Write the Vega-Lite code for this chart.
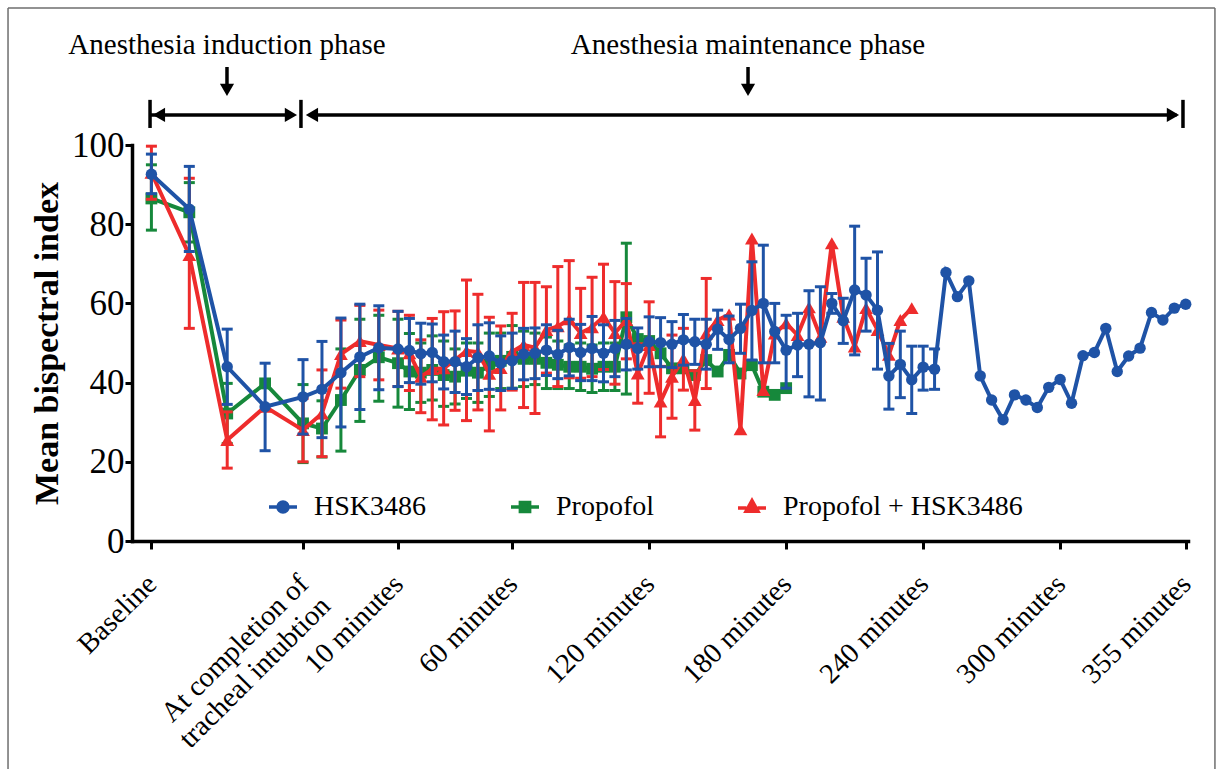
{
  "$schema": "https://vega.github.io/schema/vega-lite/v6.json",
  "width": 1056,
  "height": 396,
  "autosize": {"type": "none"},
  "padding": {"left": 132, "top": 145, "right": 35, "bottom": 228},
  "background": "white",
  "config": {
    "font": "Liberation Serif",
    "view": {"stroke": null},
    "axis": {"domainColor": "black", "domainWidth": 3.5, "domainCap": "square", "tickColor": "black", "tickWidth": 3, "labelColor": "black", "titleColor": "black", "grid": false, "labelFont": "Liberation Serif", "titleFont": "Liberation Serif", "labelLimit": 0},
    "legend": {"labelFont": "Liberation Serif", "labelColor": "black", "labelLimit": 0}
  },
  "datasets": {
    "frame": [
      {"side": "left", "t": -160.8, "t2": -160.8, "v": 134.6, "v2": -60},
      {"side": "top", "t": -160.8, "t2": 367.8, "v": 134.6, "v2": 134.6},
      {"side": "right", "t": 367.8, "t2": 367.8, "v": 134.6, "v2": -60}
    ],
    "bis": [
      {"t": -98, "group": "HSK3486", "v": 92.6, "lo": 87.7, "hi": 97.7},
      {"t": -81.4, "group": "HSK3486", "v": 83.8, "lo": 73.1, "hi": 94.6},
      {"t": -64.8, "group": "HSK3486", "v": 44.0, "lo": 34.5, "hi": 53.5},
      {"t": -48.2, "group": "HSK3486", "v": 33.9, "lo": 22.8, "hi": 44.9},
      {"t": -31.6, "group": "HSK3486", "v": 36.4, "lo": 27.0, "hi": 45.8},
      {"t": -23.3, "group": "HSK3486", "v": 38.3, "lo": 26.1, "hi": 50.4},
      {"t": -15, "group": "HSK3486", "v": 42.5, "lo": 28.8, "hi": 56.3},
      {"t": -6.7, "group": "HSK3486", "v": 46.5, "lo": 33.2, "hi": 59.8},
      {"t": 1.6, "group": "HSK3486", "v": 48.8, "lo": 38.2, "hi": 59.4},
      {"t": 10, "group": "HSK3486", "v": 48.5, "lo": 39.0, "hi": 58.0},
      {"t": 15, "group": "HSK3486", "v": 48.1, "lo": 40.0, "hi": 56.2},
      {"t": 20, "group": "HSK3486", "v": 47.3, "lo": 39.6, "hi": 55.0},
      {"t": 25, "group": "HSK3486", "v": 47.6, "lo": 40.2, "hi": 54.8},
      {"t": 30, "group": "HSK3486", "v": 45.3, "lo": 38.4, "hi": 52.0},
      {"t": 35, "group": "HSK3486", "v": 45.3, "lo": 37.5, "hi": 53.0},
      {"t": 40, "group": "HSK3486", "v": 44.0, "lo": 37.0, "hi": 51.1},
      {"t": 45, "group": "HSK3486", "v": 46.3, "lo": 38.0, "hi": 54.6},
      {"t": 50, "group": "HSK3486", "v": 46.7, "lo": 38.3, "hi": 55.1},
      {"t": 55, "group": "HSK3486", "v": 44.9, "lo": 38.0, "hi": 51.8},
      {"t": 60, "group": "HSK3486", "v": 45.5, "lo": 38.5, "hi": 52.5},
      {"t": 65, "group": "HSK3486", "v": 47.2, "lo": 40.7, "hi": 53.7},
      {"t": 70, "group": "HSK3486", "v": 47.4, "lo": 41.0, "hi": 53.8},
      {"t": 75, "group": "HSK3486", "v": 48.2, "lo": 41.8, "hi": 54.6},
      {"t": 80, "group": "HSK3486", "v": 47.1, "lo": 41.0, "hi": 53.2},
      {"t": 85, "group": "HSK3486", "v": 48.9, "lo": 41.7, "hi": 56.0},
      {"t": 90, "group": "HSK3486", "v": 47.6, "lo": 40.5, "hi": 54.7},
      {"t": 95, "group": "HSK3486", "v": 48.6, "lo": 40.5, "hi": 56.7},
      {"t": 100, "group": "HSK3486", "v": 47.4, "lo": 40.2, "hi": 54.6},
      {"t": 105, "group": "HSK3486", "v": 48.6, "lo": 41.5, "hi": 55.7},
      {"t": 110, "group": "HSK3486", "v": 49.7, "lo": 43.2, "hi": 56.2},
      {"t": 115, "group": "HSK3486", "v": 48.6, "lo": 43.4, "hi": 53.8},
      {"t": 120, "group": "HSK3486", "v": 50.3, "lo": 44.0, "hi": 56.6},
      {"t": 125, "group": "HSK3486", "v": 50.1, "lo": 44.0, "hi": 56.4},
      {"t": 130, "group": "HSK3486", "v": 49.7, "lo": 43.8, "hi": 55.4},
      {"t": 135, "group": "HSK3486", "v": 50.8, "lo": 44.4, "hi": 57.2},
      {"t": 140, "group": "HSK3486", "v": 50.3, "lo": 44.6, "hi": 56.0},
      {"t": 145, "group": "HSK3486", "v": 49.7, "lo": 43.4, "hi": 56.0},
      {"t": 150, "group": "HSK3486", "v": 53.5, "lo": 48.4, "hi": 58.3},
      {"t": 155, "group": "HSK3486", "v": 50.9, "lo": 45.0, "hi": 56.8},
      {"t": 160, "group": "HSK3486", "v": 53.7, "lo": 47.4, "hi": 59.8},
      {"t": 165, "group": "HSK3486", "v": 58.2, "lo": 45.7, "hi": 70.5},
      {"t": 170, "group": "HSK3486", "v": 60.0, "lo": 45.0, "hi": 74.7},
      {"t": 175, "group": "HSK3486", "v": 52.9, "lo": 45.0, "hi": 60.0},
      {"t": 180, "group": "HSK3486", "v": 48.2, "lo": 38.6, "hi": 57.0},
      {"t": 185, "group": "HSK3486", "v": 49.5, "lo": 41.5, "hi": 57.5},
      {"t": 190, "group": "HSK3486", "v": 49.7, "lo": 36.4, "hi": 63.2},
      {"t": 195, "group": "HSK3486", "v": 50.1, "lo": 35.6, "hi": 64.2},
      {"t": 200, "group": "HSK3486", "v": 60.0, "lo": 57.5, "hi": 62.5},
      {"t": 205, "group": "HSK3486", "v": 55.6, "lo": 49.9, "hi": 61.3},
      {"t": 210, "group": "HSK3486", "v": 63.4, "lo": 47.0, "hi": 79.5},
      {"t": 215, "group": "HSK3486", "v": 62.1, "lo": 53.0, "hi": 71.4},
      {"t": 220, "group": "HSK3486", "v": 58.3, "lo": 43.4, "hi": 73.0},
      {"t": 225, "group": "HSK3486", "v": 41.7, "lo": 33.3, "hi": 49.9},
      {"t": 230, "group": "HSK3486", "v": 44.6, "lo": 36.2, "hi": 53.0},
      {"t": 235, "group": "HSK3486", "v": 40.7, "lo": 32.2, "hi": 49.2},
      {"t": 240, "group": "HSK3486", "v": 43.9, "lo": 38.1, "hi": 49.2},
      {"t": 245, "group": "HSK3486", "v": 43.4, "lo": 38.3, "hi": 48.5},
      {"t": 250, "group": "HSK3486", "v": 67.8},
      {"t": 255, "group": "HSK3486", "v": 61.7},
      {"t": 260, "group": "HSK3486", "v": 65.7},
      {"t": 265, "group": "HSK3486", "v": 41.7},
      {"t": 270, "group": "HSK3486", "v": 35.6},
      {"t": 275, "group": "HSK3486", "v": 30.6},
      {"t": 280, "group": "HSK3486", "v": 36.9},
      {"t": 285, "group": "HSK3486", "v": 35.6},
      {"t": 290, "group": "HSK3486", "v": 33.7},
      {"t": 295, "group": "HSK3486", "v": 38.8},
      {"t": 300, "group": "HSK3486", "v": 40.8},
      {"t": 305, "group": "HSK3486", "v": 34.8},
      {"t": 310, "group": "HSK3486", "v": 46.8},
      {"t": 315, "group": "HSK3486", "v": 47.6},
      {"t": 320, "group": "HSK3486", "v": 53.7},
      {"t": 325, "group": "HSK3486", "v": 42.8},
      {"t": 330, "group": "HSK3486", "v": 46.7},
      {"t": 335, "group": "HSK3486", "v": 48.7},
      {"t": 340, "group": "HSK3486", "v": 57.7},
      {"t": 345, "group": "HSK3486", "v": 55.8},
      {"t": 350, "group": "HSK3486", "v": 58.8},
      {"t": 355, "group": "HSK3486", "v": 59.8},

      {"t": -98, "group": "Propofol", "v": 86.5, "lo": 78.5, "hi": 95.0},
      {"t": -81.4, "group": "Propofol", "v": 83.0, "lo": 75.5, "hi": 90.5},
      {"t": -64.8, "group": "Propofol", "v": 32.2, "lo": 24.6, "hi": 39.8},
      {"t": -48.2, "group": "Propofol", "v": 39.8},
      {"t": -31.6, "group": "Propofol", "v": 29.7, "lo": 19.8, "hi": 39.5},
      {"t": -23.3, "group": "Propofol", "v": 28.4, "lo": 21.2, "hi": 35.4},
      {"t": -15, "group": "Propofol", "v": 35.6, "lo": 22.7, "hi": 48.5},
      {"t": -6.7, "group": "Propofol", "v": 43.2, "lo": 30.2, "hi": 56.0},
      {"t": 1.6, "group": "Propofol", "v": 46.4, "lo": 35.3, "hi": 57.0},
      {"t": 10, "group": "Propofol", "v": 44.9, "lo": 33.8, "hi": 56.0},
      {"t": 15, "group": "Propofol", "v": 42.8, "lo": 33.2, "hi": 52.4},
      {"t": 20, "group": "Propofol", "v": 42.5, "lo": 35.0, "hi": 50.0},
      {"t": 25, "group": "Propofol", "v": 43.2, "lo": 35.6, "hi": 51.8},
      {"t": 30, "group": "Propofol", "v": 41.9, "lo": 34.0, "hi": 50.5},
      {"t": 35, "group": "Propofol", "v": 41.5, "lo": 34.6, "hi": 48.5},
      {"t": 40, "group": "Propofol", "v": 43.0, "lo": 36.0, "hi": 50.0},
      {"t": 45, "group": "Propofol", "v": 42.5, "lo": 35.0, "hi": 50.0},
      {"t": 50, "group": "Propofol", "v": 44.5, "lo": 36.5, "hi": 52.5},
      {"t": 55, "group": "Propofol", "v": 45.5, "lo": 38.5, "hi": 52.5},
      {"t": 60, "group": "Propofol", "v": 46.5, "lo": 38.6, "hi": 54.4},
      {"t": 65, "group": "Propofol", "v": 46.0, "lo": 39.0, "hi": 53.0},
      {"t": 70, "group": "Propofol", "v": 46.0, "lo": 39.5, "hi": 52.5},
      {"t": 75, "group": "Propofol", "v": 45.0, "lo": 38.5, "hi": 51.5},
      {"t": 80, "group": "Propofol", "v": 44.5, "lo": 38.5, "hi": 50.5},
      {"t": 85, "group": "Propofol", "v": 44.0, "lo": 38.5, "hi": 49.5},
      {"t": 90, "group": "Propofol", "v": 44.0, "lo": 38.0, "hi": 50.0},
      {"t": 95, "group": "Propofol", "v": 43.5, "lo": 37.5, "hi": 49.5},
      {"t": 100, "group": "Propofol", "v": 44.0, "lo": 38.0, "hi": 50.0},
      {"t": 105, "group": "Propofol", "v": 44.0, "lo": 38.0, "hi": 50.0},
      {"t": 110, "group": "Propofol", "v": 56.5, "lo": 37.1, "hi": 75.2},
      {"t": 115, "group": "Propofol", "v": 51.0},
      {"t": 120, "group": "Propofol", "v": 50.5},
      {"t": 125, "group": "Propofol", "v": 47.4},
      {"t": 130, "group": "Propofol", "v": 43.6},
      {"t": 135, "group": "Propofol", "v": 43.6},
      {"t": 140, "group": "Propofol", "v": 41.9},
      {"t": 145, "group": "Propofol", "v": 45.7},
      {"t": 150, "group": "Propofol", "v": 42.8},
      {"t": 155, "group": "Propofol", "v": 47.0},
      {"t": 160, "group": "Propofol", "v": 42.3},
      {"t": 165, "group": "Propofol", "v": 44.4},
      {"t": 170, "group": "Propofol", "v": 37.7},
      {"t": 175, "group": "Propofol", "v": 36.9},
      {"t": 180, "group": "Propofol", "v": 38.6},

      {"t": -98, "group": "Propofol + HSK3486", "v": 93.0, "lo": 86.3, "hi": 99.7},
      {"t": -81.4, "group": "Propofol + HSK3486", "v": 72.2, "lo": 53.7, "hi": 91.6},
      {"t": -64.8, "group": "Propofol + HSK3486", "v": 25.5, "lo": 18.4, "hi": 32.6},
      {"t": -48.2, "group": "Propofol + HSK3486", "v": 33.9},
      {"t": -31.6, "group": "Propofol + HSK3486", "v": 28.0, "lo": 20.0, "hi": 36.0},
      {"t": -23.3, "group": "Propofol + HSK3486", "v": 32.2, "lo": 21.3, "hi": 43.2},
      {"t": -15, "group": "Propofol + HSK3486", "v": 47.2, "lo": 38.6, "hi": 55.8},
      {"t": -6.7, "group": "Propofol + HSK3486", "v": 50.5, "lo": 41.5, "hi": 59.5},
      {"t": 1.6, "group": "Propofol + HSK3486", "v": 49.5, "lo": 40.7, "hi": 58.3},
      {"t": 10, "group": "Propofol + HSK3486", "v": 48.6, "lo": 39.0, "hi": 58.0},
      {"t": 15, "group": "Propofol + HSK3486", "v": 47.4, "lo": 38.0, "hi": 57.0},
      {"t": 20, "group": "Propofol + HSK3486", "v": 41.5, "lo": 32.4, "hi": 50.8},
      {"t": 25, "group": "Propofol + HSK3486", "v": 43.4, "lo": 30.6, "hi": 56.2},
      {"t": 30, "group": "Propofol + HSK3486", "v": 43.6, "lo": 29.3, "hi": 57.9},
      {"t": 35, "group": "Propofol + HSK3486", "v": 45.7, "lo": 33.0, "hi": 58.1},
      {"t": 40, "group": "Propofol + HSK3486", "v": 48.0, "lo": 30.4, "hi": 65.9},
      {"t": 45, "group": "Propofol + HSK3486", "v": 47.7, "lo": 33.1, "hi": 62.3},
      {"t": 50, "group": "Propofol + HSK3486", "v": 42.2, "lo": 27.8, "hi": 56.5},
      {"t": 55, "group": "Propofol + HSK3486", "v": 43.7, "lo": 33.1, "hi": 54.3},
      {"t": 60, "group": "Propofol + HSK3486", "v": 47.8, "lo": 38.1, "hi": 57.5},
      {"t": 65, "group": "Propofol + HSK3486", "v": 49.5, "lo": 33.7, "hi": 65.3},
      {"t": 70, "group": "Propofol + HSK3486", "v": 48.8, "lo": 32.2, "hi": 65.3},
      {"t": 75, "group": "Propofol + HSK3486", "v": 53.3, "lo": 42.4, "hi": 64.2},
      {"t": 80, "group": "Propofol + HSK3486", "v": 54.2, "lo": 39.0, "hi": 69.3},
      {"t": 85, "group": "Propofol + HSK3486", "v": 56.0, "lo": 41.2, "hi": 70.8},
      {"t": 90, "group": "Propofol + HSK3486", "v": 52.5, "lo": 41.1, "hi": 63.8},
      {"t": 95, "group": "Propofol + HSK3486", "v": 54.0, "lo": 41.5, "hi": 66.6},
      {"t": 100, "group": "Propofol + HSK3486", "v": 56.6, "lo": 43.3, "hi": 69.9},
      {"t": 105, "group": "Propofol + HSK3486", "v": 52.5, "lo": 39.6, "hi": 65.5},
      {"t": 110, "group": "Propofol + HSK3486", "v": 55.8, "lo": 46.0, "hi": 65.0},
      {"t": 115, "group": "Propofol + HSK3486", "v": 42.3, "lo": 34.8, "hi": 49.8},
      {"t": 120, "group": "Propofol + HSK3486", "v": 49.5, "lo": 37.3, "hi": 60.4},
      {"t": 125, "group": "Propofol + HSK3486", "v": 35.2, "lo": 26.3, "hi": 44.1},
      {"t": 130, "group": "Propofol + HSK3486", "v": 41.5, "lo": 31.0, "hi": 52.0},
      {"t": 135, "group": "Propofol + HSK3486", "v": 46.0, "lo": 38.1, "hi": 53.7},
      {"t": 140, "group": "Propofol + HSK3486", "v": 35.6, "lo": 28.0, "hi": 43.0},
      {"t": 145, "group": "Propofol + HSK3486", "v": 52.4, "lo": 38.5, "hi": 66.3},
      {"t": 150, "group": "Propofol + HSK3486", "v": 55.8},
      {"t": 155, "group": "Propofol + HSK3486", "v": 57.2},
      {"t": 160, "group": "Propofol + HSK3486", "v": 28.2},
      {"t": 165, "group": "Propofol + HSK3486", "v": 76.4},
      {"t": 170, "group": "Propofol + HSK3486", "v": 38.1},
      {"t": 175, "group": "Propofol + HSK3486", "v": 52.4},
      {"t": 180, "group": "Propofol + HSK3486", "v": 55.0},
      {"t": 185, "group": "Propofol + HSK3486", "v": 52.0},
      {"t": 190, "group": "Propofol + HSK3486", "v": 59.0},
      {"t": 195, "group": "Propofol + HSK3486", "v": 51.6},
      {"t": 200, "group": "Propofol + HSK3486", "v": 75.2},
      {"t": 205, "group": "Propofol + HSK3486", "v": 56.6},
      {"t": 210, "group": "Propofol + HSK3486", "v": 49.1},
      {"t": 215, "group": "Propofol + HSK3486", "v": 58.8},
      {"t": 220, "group": "Propofol + HSK3486", "v": 53.3},
      {"t": 225, "group": "Propofol + HSK3486", "v": 47.0},
      {"t": 230, "group": "Propofol + HSK3486", "v": 55.8},
      {"t": 235, "group": "Propofol + HSK3486", "v": 58.8}
    ],
    "ann_text": [
      {"t": -64.9, "v": 125.3, "label": "Anesthesia induction phase"},
      {"t": 163.3, "v": 125.3, "label": "Anesthesia maintenance phase"}
    ],
    "ann_rules": [
      {"t": -98.6, "t2": -36.0, "v": 107.6, "v2": 107.6},
      {"t": -29.0, "t2": 351.0, "v": 107.6, "v2": 107.6},
      {"t": -98.6, "t2": -98.6, "v": 104.3, "v2": 111.4},
      {"t": -32.5, "t2": -32.5, "v": 104.3, "v2": 111.4},
      {"t": 353.8, "t2": 353.8, "v": 104.3, "v2": 111.4},
      {"t": -64.9, "t2": -64.9, "v": 119.7, "v2": 114.5},
      {"t": 163.3, "t2": 163.3, "v": 119.7, "v2": 114.5}
    ],
    "ann_heads": [
      {"t": -94.7, "v": 107.6, "dir": "left"},
      {"t": -36.9, "v": 107.6, "dir": "right"},
      {"t": -27.7, "v": 107.6, "dir": "left"},
      {"t": 349.4, "v": 107.6, "dir": "right"},
      {"t": -64.9, "v": 113.9, "dir": "down"},
      {"t": 163.3, "v": 113.9, "dir": "down"}
    ]
  },
  "encoding": {
    "x": {
      "field": "t", "type": "quantitative",
      "scale": {"domain": [-106.5, 356], "nice": false, "zero": false},
      "axis": {
        "values": [-98, -31.6, 10, 60, 120, 180, 240, 300, 355],
        "labelExpr": "datum.value == -98 ? 'Baseline' : datum.value == -31.6 ? ['At completion of', 'tracheal intubtion'] : datum.value + ' minutes'",
        "title": null, "labelAngle": -45, "labelAlign": "right", "labelBaseline": "middle",
        "labelFontSize": 28.5, "labelPadding": 30, "labelLineHeight": 31, "tickSize": 8,
        "labelOverlap": false, "labelFlush": false, "labelBound": false, "labelLimit": 0
      }
    },
    "y": {
      "field": "v", "type": "quantitative", "title": "Mean bispectral index",
      "scale": {"domain": [0, 100], "nice": false},
      "axis": {"values": [0, 20, 40, 60, 80, 100], "labelFontSize": 35, "labelPadding": 1, "tickSize": 7, "titleFontSize": 34, "titleFontWeight": "bold", "titlePadding": 7}
    }
  },
  "layer": [
    {
      "data": {"name": "frame"},
      "mark": {"type": "rule", "color": "#6e6e6e", "strokeWidth": 1.5, "clip": false},
      "encoding": {"x2": {"field": "t2"}, "y2": {"field": "v2"}}
    },
    {
      "data": {"name": "ann_text"},
      "mark": {"type": "text", "fontSize": 29, "font": "Liberation Serif", "color": "black", "baseline": "middle", "align": "center"},
      "encoding": {"text": {"field": "label"}}
    },
    {
      "data": {"name": "ann_rules"},
      "mark": {"type": "rule", "color": "black", "strokeWidth": 3.5},
      "encoding": {"x2": {"field": "t2"}, "y2": {"field": "v2"}}
    },
    {
      "data": {"name": "ann_heads"},
      "transform": [{"filter": "datum.dir == 'left'"}],
      "mark": {"type": "point", "shape": "triangle-left", "filled": true, "color": "black", "opacity": 1, "size": 200}
    },
    {
      "data": {"name": "ann_heads"},
      "transform": [{"filter": "datum.dir == 'right'"}],
      "mark": {"type": "point", "shape": "triangle-right", "filled": true, "color": "black", "opacity": 1, "size": 200}
    },
    {
      "data": {"name": "ann_heads"},
      "transform": [{"filter": "datum.dir == 'down'"}],
      "mark": {"type": "point", "shape": "triangle-down", "filled": true, "color": "black", "opacity": 1, "size": 200}
    },
    {
      "data": {"name": "bis"},
      "transform": [{"filter": "datum.group == 'Propofol'"}],
      "layer": [
        {"mark": {"type": "rule", "strokeWidth": 3, "color": "#16883B"}, "encoding": {"y": {"field": "lo", "type": "quantitative", "title": "Mean bispectral index"}, "y2": {"field": "hi"}}},
        {"mark": {"type": "tick", "orient": "horizontal", "size": 11, "thickness": 3, "color": "#16883B", "opacity": 1}, "encoding": {"y": {"field": "lo", "type": "quantitative", "title": "Mean bispectral index"}}},
        {"mark": {"type": "tick", "orient": "horizontal", "size": 11, "thickness": 3, "color": "#16883B", "opacity": 1}, "encoding": {"y": {"field": "hi", "type": "quantitative", "title": "Mean bispectral index"}}},
        {"mark": {"type": "line", "strokeWidth": 4, "color": "#16883B"}},
        {"mark": {"type": "point", "shape": "square", "filled": true, "opacity": 1, "size": 140, "color": "#16883B"}}
      ]
    },
    {
      "data": {"name": "bis"},
      "transform": [{"filter": "datum.group == 'Propofol + HSK3486'"}],
      "layer": [
        {"mark": {"type": "rule", "strokeWidth": 3, "color": "#EE2C2C"}, "encoding": {"y": {"field": "lo", "type": "quantitative", "title": "Mean bispectral index"}, "y2": {"field": "hi"}}},
        {"mark": {"type": "tick", "orient": "horizontal", "size": 11, "thickness": 3, "color": "#EE2C2C", "opacity": 1}, "encoding": {"y": {"field": "lo", "type": "quantitative", "title": "Mean bispectral index"}}},
        {"mark": {"type": "tick", "orient": "horizontal", "size": 11, "thickness": 3, "color": "#EE2C2C", "opacity": 1}, "encoding": {"y": {"field": "hi", "type": "quantitative", "title": "Mean bispectral index"}}},
        {"mark": {"type": "line", "strokeWidth": 4, "color": "#EE2C2C"}},
        {"mark": {"type": "point", "shape": "triangle-up", "filled": true, "opacity": 1, "size": 190, "color": "#EE2C2C"}}
      ]
    },
    {
      "data": {"name": "bis"},
      "transform": [{"filter": "datum.group == 'HSK3486'"}],
      "layer": [
        {"mark": {"type": "rule", "strokeWidth": 3, "color": "#1F53A6"}, "encoding": {"y": {"field": "lo", "type": "quantitative", "title": "Mean bispectral index"}, "y2": {"field": "hi"}}},
        {"mark": {"type": "tick", "orient": "horizontal", "size": 11, "thickness": 3, "color": "#1F53A6", "opacity": 1}, "encoding": {"y": {"field": "lo", "type": "quantitative", "title": "Mean bispectral index"}}},
        {"mark": {"type": "tick", "orient": "horizontal", "size": 11, "thickness": 3, "color": "#1F53A6", "opacity": 1}, "encoding": {"y": {"field": "hi", "type": "quantitative", "title": "Mean bispectral index"}}},
        {"mark": {"type": "line", "strokeWidth": 4, "color": "#1F53A6"}},
        {"mark": {"type": "point", "shape": "circle", "filled": true, "opacity": 1, "size": 130, "color": "#1F53A6"}}
      ]
    },
    {
      "data": {"name": "bis"},
      "transform": [{"filter": "false"}],
      "mark": {"type": "point", "filled": true, "opacity": 1, "strokeWidth": 3.5},
      "encoding": {
        "color": {"field": "group", "type": "nominal", "title": null,
          "scale": {"domain": ["HSK3486", "Propofol", "Propofol + HSK3486"], "range": ["#1F53A6", "#16883B", "#EE2C2C"]},
          "legend": {"title": null, "orient": "none", "legendX": 135, "legendY": 346, "direction": "horizontal",
            "labelFontSize": 28, "labelFont": "Liberation Serif", "labelColor": "black", "labelOffset": 15, "labelLimit": 0,
            "columnPadding": 77, "symbolSize": 784, "symbolStrokeWidth": 3.5, "padding": 0}},
        "stroke": {"field": "group", "type": "nominal", "title": null,
          "scale": {"domain": ["HSK3486", "Propofol", "Propofol + HSK3486"], "range": ["#1F53A6", "#16883B", "#EE2C2C"]}},
        "shape": {"field": "group", "type": "nominal", "title": null,
          "scale": {"domain": ["HSK3486", "Propofol", "Propofol + HSK3486"], "range": [
            "M-1,0L-0.36,0M0.36,0L1,0M0.36,0A0.36,0.36,0,1,1,-0.36,0A0.36,0.36,0,1,1,0.36,0Z",
            "M-1,0L-0.33,0M0.33,0L1,0M-0.33,-0.33L0.33,-0.33L0.33,0.33L-0.33,0.33Z",
            "M-1,0.08L-0.4,0.08M0.4,0.08L1,0.08M0,-0.45L0.42,0.3L-0.42,0.3Z"]}}
      }
    }
  ]
}
